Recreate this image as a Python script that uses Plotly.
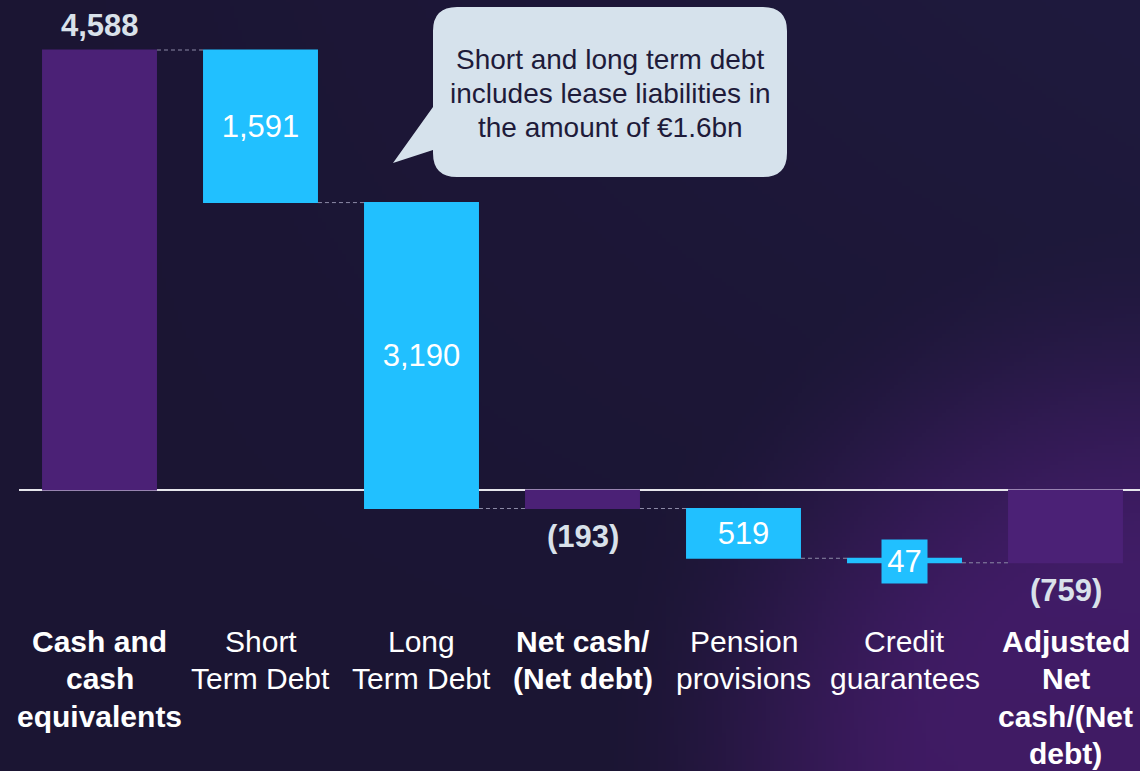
import base64
import struct
import zlib

import numpy as np
import plotly.graph_objects as go

# ---------------- data ----------------
categories = [
    "Cash and cash equivalents",
    "Short Term Debt",
    "Long Term Debt",
    "Net cash/(Net debt)",
    "Pension provisions",
    "Credit guarantees",
    "Adjusted Net cash/(Net debt)",
]
category_lines = [
    ["Cash and", "cash", "equivalents"],
    ["Short", "Term Debt"],
    ["Long", "Term Debt"],
    ["Net cash/", "(Net debt)"],
    ["Pension", "provisions"],
    ["Credit", "guarantees"],
    ["Adjusted", "Net", "cash/(Net", "debt)"],
]
category_bold = [True, False, False, True, False, False, True]
measures = ["absolute", "relative", "relative", "total", "relative", "relative", "total"]
values = [4588, -1591, -3190, 0, -519, -47, 0]
value_labels = ["4,588", "1,591", "3,190", "(193)", "519", "47", "(759)"]
callout_lines = [
    "Short and long term debt",
    "includes lease liabilities in",
    "the amount of €1.6bn",
]

# ---------------- geometry ----------------
W, H = 1140, 771
ML, MR, MT, MB = 19, 0, 0, 171
PW, PH = W - ML - MR, H - MT - MB
STEP = 161.0          # px per category
X0 = 99.5             # px centre of first bar
ZERO_PX = 490.0
PX_PER_UNIT = 440.0 / 4588.0
x_range = [(ML - X0) / STEP, (W - MR - X0) / STEP]
y_range = [-(MT + PH - ZERO_PX) / PX_PER_UNIT, (ZERO_PX - MT) / PX_PER_UNIT]

FONT = "Arial, Liberation Sans, sans-serif"
CYAN = "#21C0FF"
PURPLE = "#4B2176"
LABEL_GREY = "#D9E1EA"


def paper(px, py):
    return (px - ML) / PW, (MT + PH - py) / PH


# ---------------- background gradient image ----------------
def make_png(arr):
    h, w, _ = arr.shape
    raw = b"".join(b"\x00" + arr[i].tobytes() for i in range(h))

    def chunk(t, d):
        return (struct.pack(">I", len(d)) + t + d
                + struct.pack(">I", zlib.crc32(t + d) & 0xFFFFFFFF))

    return (b"\x89PNG\r\n\x1a\n"
            + chunk(b"IHDR", struct.pack(">IIBBBBB", w, h, 8, 2, 0, 0, 0))
            + chunk(b"IDAT", zlib.compress(raw, 9))
            + chunk(b"IEND", b""))


gw, gh = 285, 193
gx = (np.arange(gw) + 0.5) / gw * W
gy = (np.arange(gh) + 0.5) / gh * H
XX, YY = np.meshgrid(gx, gy)
base = np.array([27, 21, 51], float)
tint = np.array([4, 5, 11], float)
glow = np.array([37, 6, 49], float)
d = np.sqrt((XX - W) ** 2 + ((YY - H) * 1.0) ** 2)
t = np.clip((560 - d) / 380, 0, 1)
f = t * t * (3 - 2 * t)
img = (base[None, None, :]
       + tint[None, None, :] * ((XX / W) * (1 - YY / H))[:, :, None]
       + glow[None, None, :] * f[:, :, None])
img = np.clip(img, 0, 255).astype(np.uint8)
bg_uri = "data:image/png;base64," + base64.b64encode(make_png(img)).decode()

# ---------------- figure ----------------
inside_pos = ["inside" if lbl and m == "relative" and abs(v) > 100 else "none"
              for lbl, m, v in zip(value_labels, measures, values)]

fig = go.Figure(
    go.Waterfall(
        x=categories,
        y=values,
        measure=measures,
        text=value_labels,
        textposition=inside_pos,
        insidetextanchor="middle",
        constraintext="none",
        textfont=dict(family=FONT, size=31, color="#FFFFFF"),
        width=0.714,
        decreasing=dict(marker=dict(color=CYAN)),
        increasing=dict(marker=dict(color=CYAN)),
        totals=dict(marker=dict(color=PURPLE)),
        connector=dict(line=dict(color="#8C8AA6", width=1, dash="4px,3px")),
        cliponaxis=False,
        hoverinfo="skip",
    )
)

annotations = []
# running totals to place outside labels
running = []
acc = 0
for m, v in zip(measures, values):
    if m == "absolute":
        acc = v
    elif m == "relative":
        acc += v
    running.append(acc)

# outside value labels (totals)
for i, m in enumerate(measures):
    if m in ("absolute", "total"):
        val = running[i]
        annotations.append(dict(
            x=categories[i], y=val, xref="x", yref="y",
            text="<b>" + value_labels[i] + "</b>", showarrow=False,
            yanchor="middle", yshift=25 if val > 0 else -28,
            font=dict(family=FONT, size=31, color=LABEL_GREY),
        ))

# small bar label in a box (credit guarantees)
i47 = 5
annotations.append(dict(
    x=categories[i47], y=running[i47] - values[i47] / 2, xref="x", yref="y",
    text=value_labels[i47], showarrow=False, yanchor="middle", yshift=-1,
    bgcolor=CYAN, width=45, height=43, borderpad=0,
    font=dict(family=FONT, size=31, color="#FFFFFF"),
))

# category labels
LINE0, LSTEP = 641.0, 37.5
for i, lines in enumerate(category_lines):
    for j, ln in enumerate(lines):
        txt = "<b>" + ln + "</b>" if category_bold[i] else ln
        annotations.append(dict(
            x=categories[i], xref="x", y=paper(0, LINE0 + j * LSTEP)[1], yref="paper",
            text=txt, showarrow=False, yanchor="middle", xanchor="center",
            font=dict(family=FONT, size=30, color="#FFFFFF"),
        ))

# callout bubble
bx0, bx1, by0, by1, r = 433, 787, 7, 177, 24


def P(px, py):
    a, b = paper(px, py)
    return f"{a:.5f},{b:.5f}"


path = (
    f"M {P(bx0 + r, by0)} L {P(bx1 - r, by0)} Q {P(bx1, by0)} {P(bx1, by0 + r)} "
    f"L {P(bx1, by1 - r)} Q {P(bx1, by1)} {P(bx1 - r, by1)} "
    f"L {P(bx0 + r, by1)} Q {P(bx0, by1)} {P(bx0, by1 - r)} "
    f"L {P(bx0, 150)} L {P(393, 163)} L {P(bx0, 107)} "
    f"L {P(bx0, by0 + r)} Q {P(bx0, by0)} {P(bx0 + r, by0)} Z"
)
shapes = [dict(type="path", xref="paper", yref="paper", path=path,
               fillcolor="#D6E2EC", line=dict(width=0), layer="above")]

for k, ln in enumerate(callout_lines):
    annotations.append(dict(
        x=paper(610, 0)[0], y=paper(0, 60 + k * 33.5)[1], xref="paper", yref="paper",
        text=ln, showarrow=False, xanchor="center", yanchor="middle",
        font=dict(family=FONT, size=28, color="#1E1B3A"),
    ))

fig.update_layout(
    width=W, height=H,
    margin=dict(l=ML, r=MR, t=MT, b=MB, pad=0),
    paper_bgcolor="#1B1533",
    plot_bgcolor="rgba(0,0,0,0)",
    showlegend=False,
    xaxis=dict(type="category", range=x_range, showgrid=False, showticklabels=False,
               zeroline=False, showline=False, ticks=""),
    yaxis=dict(range=y_range, showgrid=False, showticklabels=False, ticks="",
               zeroline=True, zerolinecolor="#E6E6EC", zerolinewidth=2, showline=False),
    images=[dict(source=bg_uri, xref="paper", yref="paper",
                 x=-ML / PW, y=1 + MT / PH, sizex=W / PW, sizey=H / PH,
                 xanchor="left", yanchor="top", sizing="stretch", layer="below")],
    shapes=shapes,
    annotations=annotations,
)

fig.write_html(
    "out.html",
    config={"displayModeBar": False, "staticPlot": True},
    post_script="document.body.style.margin='0';document.body.style.overflow='hidden';",
)
